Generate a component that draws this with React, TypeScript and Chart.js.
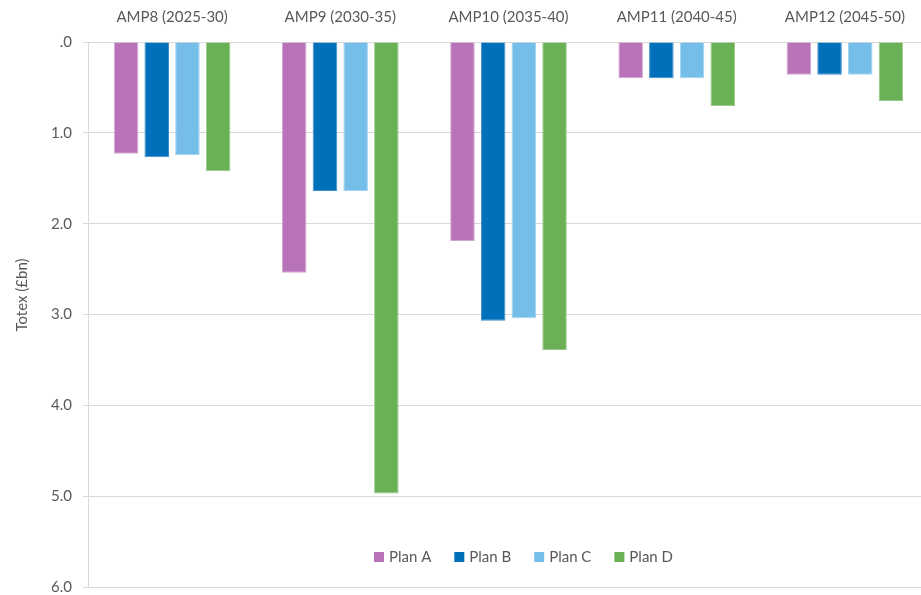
import React, { useEffect, useRef } from "react";
import { Chart, registerables } from "chart.js";

Chart.register(...registerables);

const categories = ["AMP8 (2025-30)", "AMP9 (2030-35)", "AMP10 (2035-40)", "AMP11 (2040-45)", "AMP12 (2045-50)"];
const seriesNames = ["Plan A", "Plan B", "Plan C", "Plan D"];
const planA = [1.23, 2.54, 2.19, 0.4, 0.36];
const planB = [1.27, 1.64, 3.07, 0.4, 0.36];
const planC = [1.245, 1.64, 3.04, 0.4, 0.36];
const planD = [1.42, 4.97, 3.39, 0.705, 0.65];
const colors = ["#B973B8", "#0070BA", "#75BEE9", "#6AB054"];
const borderColors = ["#D3A6D2", "#3E8FCB", "#A3D3F0", "#98CB88"];
const yTicks = [0, 1, 2, 3, 4, 5, 6];
const yTitle = "Totex (£bn)";

const FONT = "Lato, 'Open Sans', sans-serif";
const TEXT = "#595959";
const FS = 15;

const legendPlugin = {
  id: "customLegend",
  afterDraw(chart: any) {
    const ctx = chart.ctx;
    ctx.save();
    ctx.font = `${FS}px ${FONT}`;
    ctx.textBaseline = "middle";
    ctx.textAlign = "left";
    let x = 374;
    const y = 557;
    chart.data.datasets.forEach((ds: any) => {
      ctx.fillStyle = ds.backgroundColor;
      ctx.fillRect(x, y - 5, 10, 10);
      ctx.fillStyle = TEXT;
      ctx.fillText(ds.label, x + 15, y);
      x += 15 + ctx.measureText(ds.label).width + 23;
    });
    // y-axis title
    ctx.translate(22, 295);
    ctx.rotate(-Math.PI / 2);
    ctx.textAlign = "center";
    ctx.fillText(yTitle, 0, 0);
    ctx.restore();
  },
};

export default function App() {
  const ref = useRef<HTMLCanvasElement>(null);
  useEffect(() => {
    const values = [planA, planB, planC, planD];
    const chart = new Chart(ref.current!, {
      type: "bar",
      data: {
        labels: categories,
        datasets: seriesNames.map((name, i) => ({
          label: name,
          data: values[i],
          backgroundColor: colors[i],
          borderColor: borderColors[i],
          borderWidth: 1,
          categoryPercentage: 0.73,
          barPercentage: 0.8,
        })),
      },
      options: {
        responsive: false,
        animation: false,
        layout: { padding: { left: 0, right: 0, top: 0, bottom: 8 } },
        plugins: { legend: { display: false }, tooltip: { enabled: false } },
        scales: {
          x: {
            position: "top",
            grid: { display: false, drawTicks: false },
            border: { display: false },
            ticks: { color: TEXT, font: { family: FONT, size: FS }, padding: 16, maxRotation: 0 },
            afterFit: (s: any) => { s.height = 42; s.paddingLeft = 0; s.paddingRight = 0; },
          },
          y: {
            reverse: true,
            min: 0,
            max: 6,
            afterBuildTicks: (s: any) => { s.ticks = yTicks.map((v) => ({ value: v })); },
            ticks: {
              color: TEXT,
              font: { family: FONT, size: FS },
              padding: 11,
              callback: (v: any) => (Number(v) === 0 ? ".0" : Number(v).toFixed(1)),
            },
            grid: { color: "#D9D9D9", tickLength: 5, lineWidth: 1 },
            border: { color: "#D9D9D9" },
            afterFit: (s: any) => { s.width = 88; s.paddingTop = 0; s.paddingBottom = 0; },
          },
        },
      },
      plugins: [legendPlugin],
    });
    return () => chart.destroy();
  }, []);
  return (
    <div style={{ position: "fixed", left: 0, top: 0, width: 921, height: 595, overflow: "hidden", background: "#fff" }}>
      <canvas ref={ref} width={929} height={595} style={{ display: "block" }} />
    </div>
  );
}
